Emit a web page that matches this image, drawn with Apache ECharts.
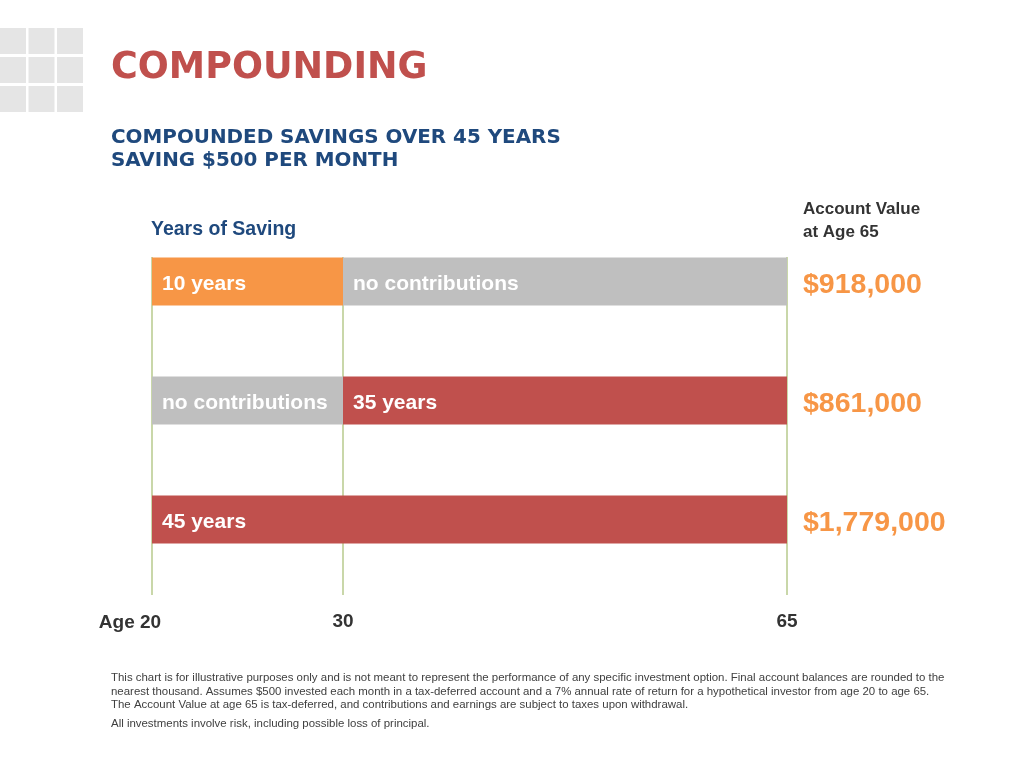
<!DOCTYPE html>
<html>
<head>
<meta charset="utf-8">
<script src="https://cdn.jsdelivr.net/npm/echarts@6.0.0/dist/echarts.min.js"></script>
<style>html,body{margin:0;padding:0;background:#fff;}#main{width:1024px;height:768px;}</style>
</head>
<body>
<div id="main"></div>
<script>
// ---- data ----
const ageTicks = [20, 30, 65];
const scenarios = ['Start at 20, stop at 30', 'Start at 30', 'Start at 20'];
const earlyPhaseType = ['early', 'none', 'full'];   // ages 20-30
const latePhaseType = ['none', 'late', 'full'];     // ages 30-65
const earlyPhaseLabels = ['10 years', 'no contributions', '45 years'];
const latePhaseLabels = ['no contributions', '35 years', ''];
const accountValues = [918000, 861000, 1779000];
const footnoteLines = [
  'This chart is for illustrative purposes only and is not meant to represent the performance of any specific investment option. Final account balances are rounded to the',
  'nearest thousand. Assumes $500 invested each month in a tax-deferred account and a 7% annual rate of return for a hypothetical investor from age 20 to age 65.',
  'The Account Value at age 65 is tax-deferred, and contributions and earnings are subject to taxes upon withdrawal.',
  'All investments involve risk, including possible loss of principal.'
];

// ---- styles ----
const typeColor = { early: '#f79646', none: '#bfbfbf', late: '#c0504d', full: '#c0504d' };
const lineColor = '#b7ca8c';
const fmtMoney = v => '$' + v.toLocaleString('en-US');

const chart = echarts.init(document.getElementById('main'));

const barGridTop = 222, barGridHeight = 357;
const lineGridTop = 257, lineGridHeight = 338;
const xA = 152, wA = 191, xB = 343, wB = 444;

function phaseSeries(gridIdx, startAge, endAge, types, labels, id) {
  return [
    {
      type: 'bar', xAxisIndex: gridIdx, yAxisIndex: gridIdx, stack: 's' + id,
      data: scenarios.map(() => startAge),
      itemStyle: { color: 'transparent' }, silent: true, barWidth: 48
    },
    {
      type: 'bar', xAxisIndex: gridIdx, yAxisIndex: gridIdx, stack: 's' + id,
      barWidth: 48,
      data: scenarios.map((s, i) => ({ value: endAge - startAge, itemStyle: { color: typeColor[types[i]] } })),
      label: {
        show: true, position: 'insideLeft', distance: 10,
        formatter: p => labels[p.dataIndex],
        color: '#ffffff', fontFamily: 'Liberation Sans, Arial, sans-serif',
        fontWeight: 'bold', fontSize: 21, verticalAlign: 'top', lineHeight: 5
      },
      z: 3
    }
  ];
}

const squares = [];
[0, 28.5, 57].forEach(x => [28, 57, 86].forEach(y => {
  squares.push({ type: 'rect', shape: { x: x, y: y, width: 26, height: 26 }, style: { fill: '#e5e5e5' }, silent: true });
}));

const texts = [
  { type: 'text', x: 111, y: 69, style: { text: 'COMPOUNDING', fill: '#c0504d', font: 'bold 36.5px "DejaVu Sans", sans-serif', verticalAlign: 'middle' } },
  { type: 'text', x: 111, y: 137.5, style: { text: 'COMPOUNDED SAVINGS OVER 45 YEARS', fill: '#1f497d', font: 'bold 19.9px "DejaVu Sans", sans-serif', verticalAlign: 'middle' } },
  { type: 'text', x: 111, y: 160.5, style: { text: 'SAVING $500 PER MONTH', fill: '#1f497d', font: 'bold 19.9px "DejaVu Sans", sans-serif', verticalAlign: 'middle' } },
  { type: 'text', x: 151, y: 230, style: { text: 'Years of Saving', fill: '#1f497d', font: 'bold 19.5px "Liberation Sans", Arial, sans-serif', verticalAlign: 'middle' } },
  { type: 'text', x: 803, y: 209, style: { text: 'Account Value', fill: '#333333', font: 'bold 17px "Liberation Sans", Arial, sans-serif', verticalAlign: 'middle' } },
  { type: 'text', x: 803, y: 232, style: { text: 'at Age 65', fill: '#333333', font: 'bold 17px "Liberation Sans", Arial, sans-serif', verticalAlign: 'middle' } }
];
const footY = [678, 691.5, 705, 724];
footnoteLines.forEach((t, i) => {
  texts.push({ type: 'text', x: 111, y: footY[i], style: { text: t, fill: '#404040', font: '11.45px "Liberation Sans", Arial, sans-serif', verticalAlign: 'middle' } });
});

const axisLabelFont = { fontFamily: 'Liberation Sans, Arial, sans-serif', fontWeight: 'bold', fontSize: 19, color: '#333333' };

const option = {
  backgroundColor: '#ffffff',
  animation: false,
  graphic: squares.concat(texts),
  grid: [
    { left: xA, top: barGridTop, width: wA, height: barGridHeight },
    { left: xB, top: barGridTop, width: wB, height: barGridHeight },
    { left: xA, top: lineGridTop, width: wA, height: lineGridHeight },
    { left: xB, top: lineGridTop, width: wB, height: lineGridHeight }
  ],
  xAxis: [
    { type: 'value', gridIndex: 0, min: ageTicks[0], max: ageTicks[1], show: false, splitLine: { show: false } },
    { type: 'value', gridIndex: 1, min: ageTicks[1], max: ageTicks[2], show: false, splitLine: { show: false } },
    {
      type: 'category', gridIndex: 2, boundaryGap: false, data: [String(ageTicks[0]), String(ageTicks[1])],
      axisLine: { show: false }, axisTick: { show: false },
      splitLine: { show: true, showMaxLine: false, lineStyle: { color: lineColor, width: 1.5 } },
      axisLabel: Object.assign({
        margin: 18,
        formatter: (v, i) => i === 0 ? '{a|Age ' + v + '}' : '',
        rich: { a: Object.assign({ padding: [0, 44, 0, 0] }, axisLabelFont) }
      }, axisLabelFont)
    },
    {
      type: 'category', gridIndex: 3, boundaryGap: false, data: [String(ageTicks[1]), String(ageTicks[2])],
      axisLine: { show: false }, axisTick: { show: false },
      splitLine: { show: true, lineStyle: { color: lineColor, width: 1.5 } },
      axisLabel: Object.assign({ margin: 17 }, axisLabelFont)
    }
  ],
  yAxis: [
    { type: 'category', gridIndex: 0, data: scenarios, inverse: true, show: false },
    {
      type: 'category', gridIndex: 1, data: scenarios, inverse: true, position: 'right',
      axisLine: { show: false }, axisTick: { show: false }, splitLine: { show: false },
      axisLabel: {
        margin: 16, formatter: (v, i) => fmtMoney(accountValues[i]),
        verticalAlign: 'top', lineHeight: 7,
        color: '#f79646', fontFamily: 'Liberation Sans, Arial, sans-serif', fontWeight: 'bold', fontSize: 28.5
      }
    },
    { type: 'value', gridIndex: 2, show: false, splitLine: { show: false } },
    { type: 'value', gridIndex: 3, show: false, splitLine: { show: false } }
  ],
  series: [].concat(
    phaseSeries(0, ageTicks[0], ageTicks[1], earlyPhaseType, earlyPhaseLabels, 'A'),
    phaseSeries(1, ageTicks[1], ageTicks[2], latePhaseType, latePhaseLabels, 'B')
  )
};
chart.setOption(option);
</script>
</body>
</html>
